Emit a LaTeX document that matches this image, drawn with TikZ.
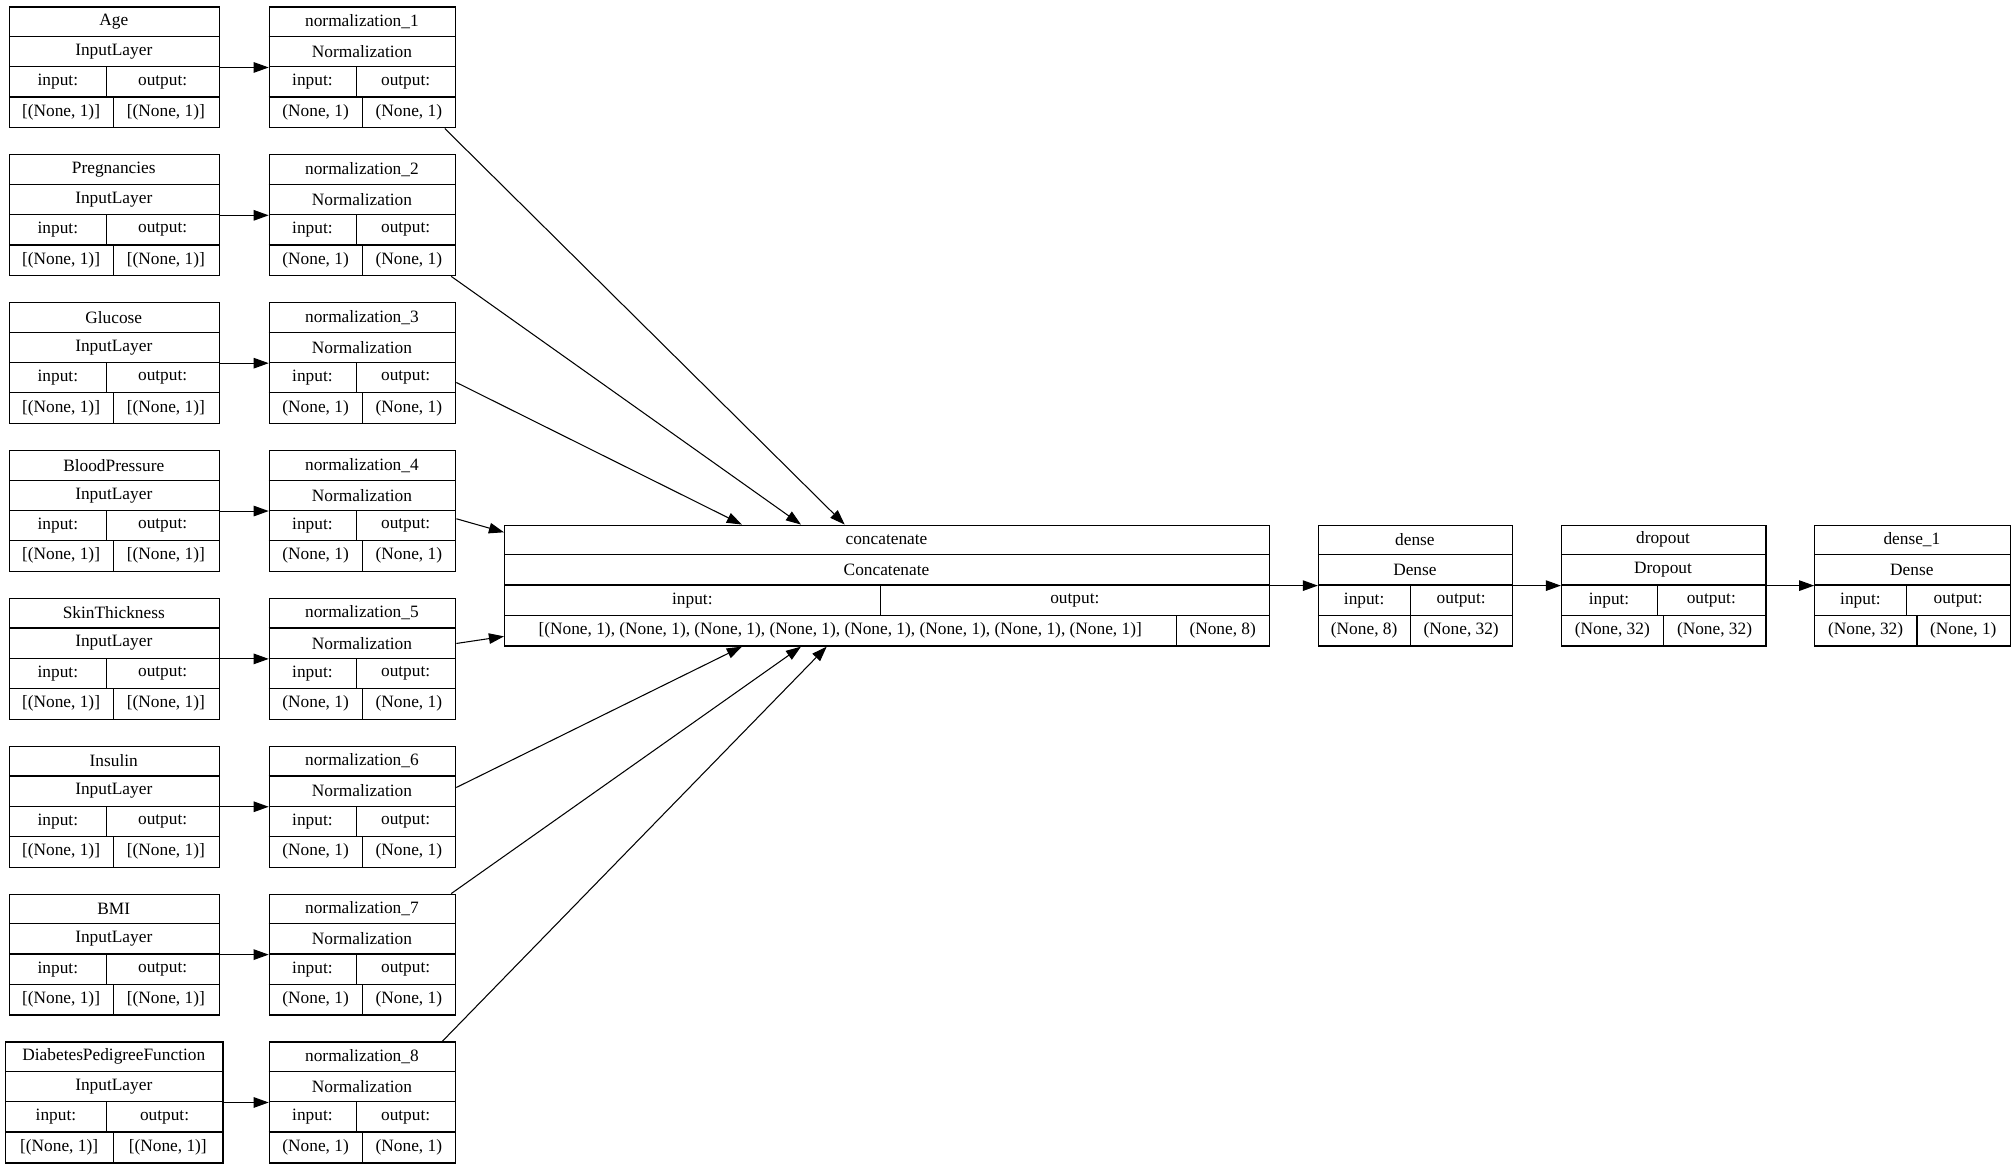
\documentclass[tikz,border=0pt]{standalone}
\usepackage{fontspec}
\setmainfont{Liberation Serif}
\usetikzlibrary{arrows.meta,calc}
\tikzset{rbox/.style={draw,line width=0.8pt,inner sep=0pt,anchor=north west},
 conn/.style={line width=0.7pt,-{Triangle[length=10pt,width=7pt]}},
 cell/.style={inner sep=0pt,font=\fontsize{11.5}{13}\selectfont}}
\newcommand\rec[8]{%
 \node[rbox,minimum width={(#3-#2)*0.03cm},minimum height={94*0.03cm}] (#1) at (#2,#4) {};
 \draw[line width=0.8pt] (#2,#4+23.5) -- (#3,#4+23.5) (#2,#4+47) -- (#3,#4+47) (#2,#4+70.5) -- (#3,#4+70.5)
   (#7,#4+47) -- (#7,#4+70.5) (#8,#4+70.5) -- (#8,#4+94);
 \node[cell] at ({(#2+#3)/2},#4+11.75) {#5};
 \node[cell] at ({(#2+#3)/2},#4+35.25) {#6};
 \node[cell] at ({(#2+#7)/2},#4+58.75) {input:};
 \node[cell] at ({(#7+#3)/2},#4+58.75) {output:};}
\newcommand\recb[6]{%
 \node[cell] at ({(#1+#4)/2},#3+82.25) {#5};
 \node[cell] at ({(#4+#2)/2},#3+82.25) {#6};}
\begin{document}
\begin{tikzpicture}[x=0.03cm,y=-0.03cm]
\useasboundingbox[fill=white] (0,0) rectangle (1568,911);
\foreach \i/\t [count=\k from 0] in {Age,Pregnancies,Glucose,BloodPressure,SkinThickness,Insulin,BMI}{
 \pgfmathsetmacro\yy{5+115*\k}
 \rec{in\k}{7}{170}{\yy}{\t}{InputLayer}{83}{88}
 \recb{7}{170}{\yy}{88}{[(None, 1)]}{[(None, 1)]}
}
\rec{in7}{4}{173}{810}{DiabetesPedigreeFunction}{InputLayer}{83}{88}
\recb{4}{173}{810}{88}{[(None, 1)]}{[(None, 1)]}
\foreach \k in {0,...,7}{
 \pgfmathsetmacro\yy{5+115*\k}
 \pgfmathtruncatemacro\n{\k+1}
 \rec{nm\k}{209}{354}{\yy}{normalization\_\n}{Normalization}{277}{282}
 \recb{209}{354}{\yy}{282}{(None, 1)}{(None, 1)}
 \draw[conn] (in\k.east) -- (nm\k.west);
}
\rec{cat}{392}{987}{408}{concatenate}{Concatenate}{685}{915}
\recb{392}{987}{408}{915}{[(None, 1), (None, 1), (None, 1), (None, 1), (None, 1), (None, 1), (None, 1), (None, 1)]}{(None, 8)}
\rec{d0}{1025}{1176}{408}{dense}{Dense}{1097}{1097}
\recb{1025}{1176}{408}{1097}{(None, 8)}{(None, 32)}
\rec{dr}{1214}{1373}{408}{dropout}{Dropout}{1289}{1294}
\recb{1214}{1373}{408}{1294}{(None, 32)}{(None, 32)}
\rec{d1}{1411}{1563}{408}{dense\_1}{Dense}{1483}{1491}
\recb{1411}{1563}{408}{1491}{(None, 32)}{(None, 1)}
\draw[conn] ($(nm0.south east)+(-9,0)$) -- ($(cat.north west)+(265,0)$);
\draw[conn] ($(nm1.south east)+(-4,0)$) -- ($(cat.north west)+(231,0)$);
\draw[conn] ($(nm2.east)+(0,15)$) -- ($(cat.north west)+(185,0)$);
\draw[conn] ($(nm3.east)+(0,6)$) -- ($(cat.north west)+(0,6)$);
\draw[conn] ($(nm4.east)+(0,-12)$) -- ($(cat.south west)+(0,-8)$);
\draw[conn] ($(nm5.east)+(0,-15)$) -- ($(cat.south west)+(185,0)$);
\draw[conn] ($(nm6.north east)+(-4,0)$) -- ($(cat.south west)+(231,0)$);
\draw[conn] ($(nm7.north east)+(-11,0)$) -- ($(cat.south west)+(251,0)$);
\draw[conn] (cat.east) -- (d0.west);
\draw[conn] (d0.east) -- (dr.west);
\draw[conn] (dr.east) -- (d1.west);
\end{tikzpicture}
\end{document}
